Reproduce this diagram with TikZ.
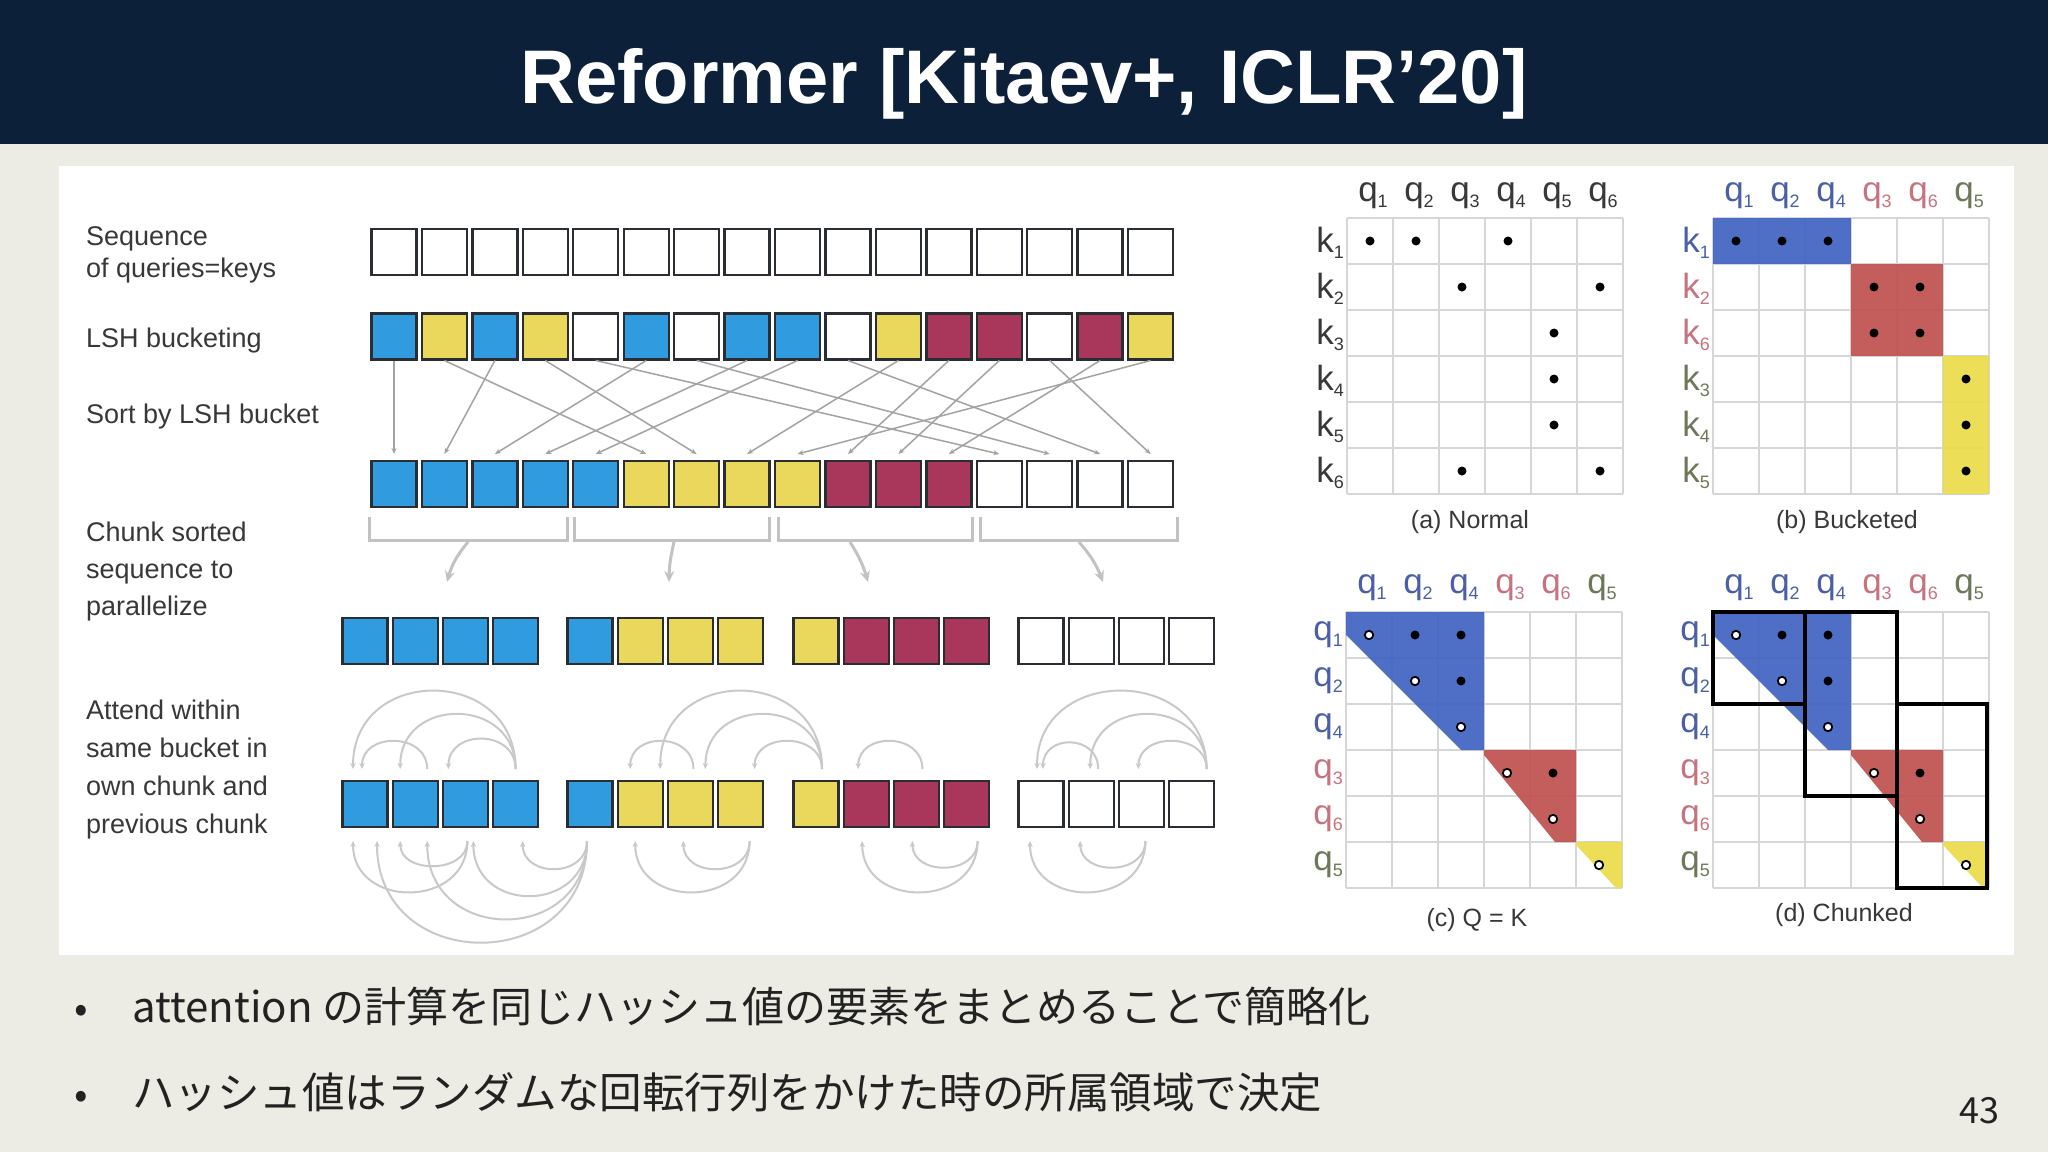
\documentclass[tikz,border=0pt]{standalone}
\usepackage{fontspec}
\setmainfont{Liberation Sans}
\newfontfamily\cjk{Noto Sans CJK JP}
\usetikzlibrary{arrows.meta,calc}

\definecolor{navy}{HTML}{0C2139}
\definecolor{bgc}{HTML}{EDECE4}
\definecolor{cB}{HTML}{319BE0}
\definecolor{cY}{HTML}{EAD85C}
\definecolor{cR}{HTML}{A8375B}
\definecolor{cW}{HTML}{FFFFFF}
\definecolor{boxl}{HTML}{2A2E33}
\definecolor{mB}{HTML}{4163C2}
\definecolor{mR}{HTML}{C0514F}
\definecolor{mY}{HTML}{EBDC48}
\definecolor{lB}{HTML}{4A5FA5}
\definecolor{lR}{HTML}{C7737F}
\definecolor{lG}{HTML}{6C7858}
\definecolor{txt}{HTML}{383838}
\definecolor{arcg}{HTML}{C9C9C9}
\definecolor{sortg}{HTML}{A3A3A3}
\definecolor{brkc}{HTML}{C2C2C2}
\definecolor{gridc}{HTML}{D6D6D6}
\definecolor{btxt}{HTML}{222222}

\newcommand\setfs[1]{\fontsize{#1}{#1}\selectfont}
\newcommand\sub[2]{#1\raisebox{-6pt}{\setfs{18}#2}}
\newcommand\gridlines{\foreach \k in {0,...,6}{\draw[gridl] ({46*\k},0) -- ({46*\k},276); \draw[gridl] (0,{46*\k}) -- (276,{46*\k});}}
\newcommand\mdot[2]{\fill[black] ({46*#1-23},{46*#2-23}) circle (4.5);}
\newcommand\opendot[2]{\filldraw[fill=white,draw=black,line width=1.8pt] ({46*#1-23},{46*#2-23}) circle (4.2);}
\newcommand\chunkrow[8]{%
 \node[cellbox,fill=#5] (#1-#3-1) at ({#4+23},#2) {};
 \node[cellbox,fill=#6] (#1-#3-2) at ({#4+73.2},#2) {};
 \node[cellbox,fill=#7] (#1-#3-3) at ({#4+123.4},#2) {};
 \node[cellbox,fill=#8] (#1-#3-4) at ({#4+173.6},#2) {};}
\newcommand\arcU[5]{\draw[arcarr] ([xshift=#2pt,yshift=12pt]#1.north) .. controls +(0,-#5) and +(0,-#5) .. ([xshift=#4pt,yshift=12pt]#3.north);}
\newcommand\arcD[5]{\draw[arcarr] ([xshift=#2pt,yshift=-14pt]#1.south) .. controls +(0,#5) and +(0,#5) .. ([xshift=#4pt,yshift=-14pt]#3.south);}
\newcommand\qkfills{%
 \fill[mB,opacity=0.92] (0,0) -- (138,0) -- (138,138) -- (115,138) -- (0,23) -- cycle;
 \fill[mR,opacity=0.92] (138,138) -- (230,138) -- (230,230) -- (209,230) -- (138,143) -- cycle;
 \fill[mY,opacity=0.92] (230,230) -- (276,230) -- (276,276) -- (270,276) -- (230,233) -- cycle;}
\newcommand\qkdots{\opendot{1}{1}\mdot{2}{1}\mdot{3}{1}\opendot{2}{2}\mdot{3}{2}\opendot{3}{3}%
 \opendot{4}{4}\mdot{5}{4}\opendot{5}{5}\opendot{6}{6}}

\begin{document}
\begin{tikzpicture}[x=1pt,y=-1pt,
 cellbox/.style={draw=boxl,line width=2.4pt,minimum width=45pt,minimum height=46pt,inner sep=0pt,outer sep=0pt},
 lbl/.style={anchor=base west,font=\setfs{27},text=txt,inner sep=0pt},
 sortarr/.style={draw=sortg,line width=1.5pt,-{Stealth[length=6pt,width=5pt]}},
 brk/.style={draw=brkc,line width=3pt},
 chunkarr/.style={draw=brkc,line width=3pt,-{Stealth[length=11pt,width=10pt]}},
 arcarr/.style={draw=arcg,line width=2pt,-{Stealth[length=6pt,width=5.5pt]}},
 gridl/.style={draw=gridc,line width=1.3pt},
 mlab/.style={font=\setfs{35},inner sep=0pt},
 captxt/.style={font=\setfs{25},text=txt,inner sep=0pt},
]
\useasboundingbox (0,0) rectangle (2048,1152);
\fill[bgc] (0,0) rectangle (2048,1152);
\fill[navy] (0,0) rectangle (2048,144);
\node[anchor=base,font=\bfseries\setfs{76},text=white,inner sep=0pt] (title) at (1024,103) {Reformer [Kitaev+, ICLR’20]};
\fill[white] (59,166) rectangle (2014,955);

% ---------- left labels
\node[lbl] (l1a) at (86,245) {Sequence};
\node[lbl] (l1b) at (86,277) {of queries=keys};
\node[lbl] (l2) at (86,347) {LSH bucketing};
\node[lbl] (l3) at (86,423) {Sort by LSH bucket};
\node[lbl] (l4a) at (86,541) {Chunk sorted};
\node[lbl] (l4b) at (86,578) {sequence to};
\node[lbl] (l4c) at (86,615) {parallelize};
\node[lbl] (l5a) at (86,719) {Attend within};
\node[lbl] (l5b) at (86,757) {same bucket in};
\node[lbl] (l5c) at (86,795) {own chunk and};
\node[lbl] (l5d) at (86,833) {previous chunk};

% ---------- rows 1-3
\foreach \i in {1,...,16} \node[cellbox,fill=white] (r1-\i) at ({394+(\i-1)*50.44},252) {};
\foreach \c [count=\i] in {cB,cY,cB,cY,cW,cB,cW,cB,cB,cW,cY,cR,cR,cW,cR,cY}
  \node[cellbox,fill=\c] (r2-\i) at ({394+(\i-1)*50.44},336.5) {};
\foreach \c [count=\i] in {cB,cB,cB,cB,cB,cY,cY,cY,cY,cR,cR,cR,cW,cW,cW,cW}
  \node[cellbox,fill=\c] (r3-\i) at ({394+(\i-1)*50.44},484) {};
\foreach \s/\d in {1/1,3/2,6/3,8/4,9/5,2/6,4/7,11/8,16/9,12/10,13/11,15/12,5/13,7/14,10/15,14/16}
  \draw[sortarr] ([yshift=-1pt]r2-\s.south) -- ([yshift=7pt]r3-\d.north);

% ---------- brackets and chunk arrows
\foreach \a/\b in {369/567,574/769,778/972,980/1177}
  \draw[brk] (\a,517) -- (\a,540) -- (\b,540) -- (\b,517);
\coordinate (cs1) at (468,542); \coordinate (ce1) at (447,582);
\coordinate (cs2) at (674,542); \coordinate (ce2) at (669,582);
\coordinate (cs3) at (850,542); \coordinate (ce3) at (868,582);
\coordinate (cs4) at (1079,542); \coordinate (ce4) at (1103,582);
\draw[chunkarr] (cs1) to[bend right=12] (ce1);
\draw[chunkarr] (cs2) to[bend right=6] (ce2);
\draw[chunkarr] (cs3) to[bend left=8] (ce3);
\draw[chunkarr] (cs4) to[bend left=10] (ce4);

% ---------- chunk rows
\chunkrow{r4}{641}{1}{342}{cB}{cB}{cB}{cB}
\chunkrow{r4}{641}{2}{567}{cB}{cY}{cY}{cY}
\chunkrow{r4}{641}{3}{793}{cY}{cR}{cR}{cR}
\chunkrow{r4}{641}{4}{1018}{cW}{cW}{cW}{cW}
\chunkrow{r5}{804}{1}{342}{cB}{cB}{cB}{cB}
\chunkrow{r5}{804}{2}{567}{cB}{cY}{cY}{cY}
\chunkrow{r5}{804}{3}{793}{cY}{cR}{cR}{cR}
\chunkrow{r5}{804}{4}{1018}{cW}{cW}{cW}{cW}

% ---------- attention arcs above
\arcU{r5-1-4}{0}{r5-1-1}{-12}{104}
\arcU{r5-1-4}{0}{r5-1-2}{-15}{73}
\arcU{r5-1-4}{0}{r5-1-3}{-17}{40}
\arcU{r5-1-2}{12}{r5-1-1}{-3}{37}
\arcU{r5-3-1}{6}{r5-2-2}{20}{104}
\arcU{r5-3-1}{6}{r5-2-3}{15}{73}
\arcU{r5-3-1}{6}{r5-2-4}{14}{37}
\arcU{r5-2-3}{3}{r5-2-2}{-10}{37}
\arcU{r5-3-3}{6}{r5-3-2}{-8}{37}
\arcU{r5-4-4}{15}{r5-4-1}{-4}{104}
\arcU{r5-4-4}{15}{r5-4-2}{-1}{73}
\arcU{r5-4-4}{15}{r5-4-3}{-3}{37}
\arcU{r5-4-2}{7}{r5-4-1}{2}{35}
% ---------- attention arcs below
\arcD{r5-1-3}{2}{r5-1-2}{-15}{33}
\arcD{r5-1-3}{2}{r5-1-1}{-12}{68}
\arcD{r5-2-1}{-3}{r5-1-4}{7}{37}
\arcD{r5-2-1}{-3}{r5-1-3}{8}{73}
\arcD{r5-2-1}{-3}{r5-1-2}{12}{104}
\arcD{r5-2-1}{-3}{r5-1-1}{12}{135}
\arcD{r5-2-4}{9}{r5-2-3}{-7}{37}
\arcD{r5-2-4}{9}{r5-2-2}{-5}{68}
\arcD{r5-3-4}{11}{r5-3-3}{-4}{35}
\arcD{r5-3-4}{11}{r5-3-2}{-4}{68}
\arcD{r5-4-3}{4}{r5-4-2}{-11}{35}
\arcD{r5-4-3}{4}{r5-4-1}{-11}{68}

% ---------- (a) Normal
\begin{scope}[shift={(1347,218)}]
\gridlines
\mdot{1}{1}\mdot{2}{1}\mdot{4}{1}\mdot{3}{2}\mdot{6}{2}\mdot{5}{3}\mdot{5}{4}\mdot{5}{5}\mdot{3}{6}\mdot{6}{6}
\foreach \n in {1,...,6} \node[mlab,text=txt] (a-c\n) at ({46*\n-20},-22) {\sub{q}{\n}};
\foreach \n in {1,...,6} \node[mlab,text=txt,anchor=east] (a-r\n) at (-3,{46*\n-21}) {\sub{k}{\n}};
\node[captxt] (capa) at (123,304) {(a) Normal};
\end{scope}

% ---------- (b) Bucketed
\begin{scope}[shift={(1713,218)}]
\gridlines
\fill[mB,opacity=0.92] (0,0) rectangle (138,46);
\fill[mR,opacity=0.92] (138,46) rectangle (230,138);
\fill[mY,opacity=0.92] (230,138) rectangle (276,276);
\mdot{1}{1}\mdot{2}{1}\mdot{3}{1}\mdot{4}{2}\mdot{5}{2}\mdot{4}{3}\mdot{5}{3}\mdot{6}{4}\mdot{6}{5}\mdot{6}{6}
\foreach \n/\cl [count=\c] in {1/lB,2/lB,4/lB,3/lR,6/lR,5/lG}
  \node[mlab,text=\cl] (b-c\c) at ({46*\c-20},-22) {\sub{q}{\n}};
\foreach \n/\cl [count=\c] in {1/lB,2/lR,6/lR,3/lG,4/lG,5/lG}
  \node[mlab,text=\cl,anchor=east] (b-r\c) at (-3,{46*\c-21}) {\sub{k}{\n}};
\node[captxt] (capb) at (134,304) {(b) Bucketed};
\end{scope}

% ---------- (c) Q = K
\begin{scope}[shift={(1346,612)}]
\gridlines
\qkfills
\qkdots
\foreach \n/\cl [count=\c] in {1/lB,2/lB,4/lB,3/lR,6/lR,5/lG}
  \node[mlab,text=\cl] (c-c\c) at ({46*\c-20},-24) {\sub{q}{\n}};
\foreach \n/\cl [count=\c] in {1/lB,2/lB,4/lB,3/lR,6/lR,5/lG}
  \node[mlab,text=\cl,anchor=east] (c-r\c) at (-3,{46*\c-23}) {\sub{q}{\n}};
\node[captxt] (capc) at (131,308) {(c) Q = K};
\end{scope}

% ---------- (d) Chunked
\begin{scope}[shift={(1713,612)}]
\gridlines
\qkfills
\qkdots
\draw[black,line width=3.2pt] (0,0) rectangle (92,92);
\draw[black,line width=3.2pt] (92,0) rectangle (184,184);
\draw[black,line width=3.2pt] (184,92) rectangle (274,276);
\foreach \n/\cl [count=\c] in {1/lB,2/lB,4/lB,3/lR,6/lR,5/lG}
  \node[mlab,text=\cl] (d-c\c) at ({46*\c-20},-24) {\sub{q}{\n}};
\foreach \n/\cl [count=\c] in {1/lB,2/lB,4/lB,3/lR,6/lR,5/lG}
  \node[mlab,text=\cl,anchor=east] (d-r\c) at (-3,{46*\c-23}) {\sub{q}{\n}};
\node[captxt] (capd) at (131,303) {(d) Chunked};
\end{scope}

% ---------- bullets
\node[anchor=base,font=\cjk\setfs{40},text=btxt,inner sep=0pt] (bu1) at (81,1022) {•};
\node[anchor=base,font=\cjk\setfs{40},text=btxt,inner sep=0pt] (bu2) at (81,1108) {•};
\node[anchor=base west,font=\cjk\setfs{42},text=btxt,inner sep=0pt] (t1) at (132,1022) {attention の計算を同じハッシュ値の要素をまとめることで簡略化};
\node[anchor=base west,font=\cjk\setfs{42.5},text=btxt,inner sep=0pt] (t2) at (132,1108) {ハッシュ値はランダムな回転行列をかけた時の所属領域で決定};
\node[anchor=base,font=\cjk\setfs{36},text=btxt,inner sep=0pt] (pn) at (1979,1123) {43};
\end{tikzpicture}
\end{document}
